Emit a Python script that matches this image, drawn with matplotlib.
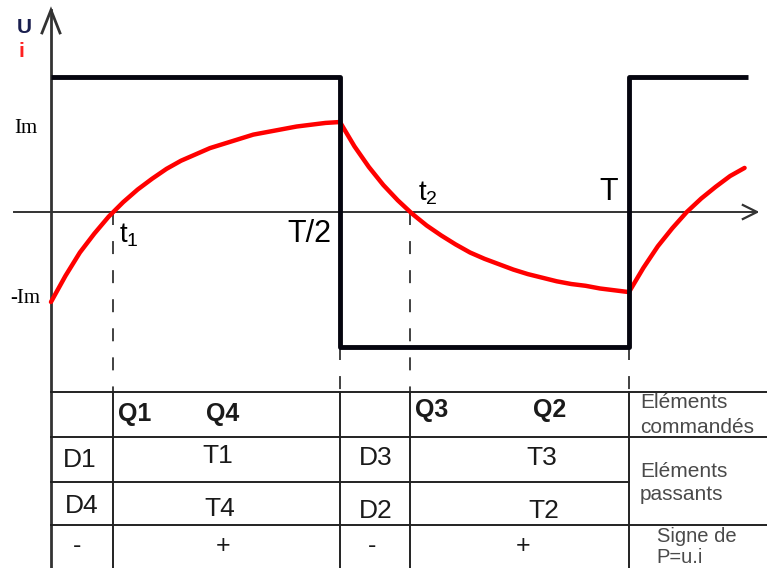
import numpy as np
import matplotlib
matplotlib.use("Agg")
import matplotlib.pyplot as plt

plt.rcParams['font.family'] = ['Liberation Sans', 'DejaVu Sans']
plt.rcParams['mathtext.fontset'] = 'custom'
plt.rcParams['mathtext.rm'] = 'Liberation Sans'

# time in periods (T = 1), amplitudes in units of Im
T_HALF = 0.5
T_ONE = 0.108      # current zero crossing, first half-period
T_TWO = 0.621      # current zero crossing, second half-period
U_LEVEL = 1.5

# square-wave voltage u(t)
u_t = [0.0, 0.5, 0.5, 1.0, 1.0, 1.206]
u_val = [U_LEVEL, U_LEVEL, -U_LEVEL, -U_LEVEL, U_LEVEL, U_LEVEL]

# load current i(t), sampled every T/40
t_rise = np.linspace(0.0, 0.5, 21)
i_rise = [-1.00, -0.71, -0.45, -0.24, -0.05, 0.11, 0.25, 0.37, 0.48, 0.57, 0.64,
          0.71, 0.76, 0.81, 0.86, 0.89, 0.92, 0.95, 0.97, 0.99, 1.00]
t_fall = np.linspace(0.5, 1.0, 21)
i_fall = [1.00, 0.73, 0.50, 0.30, 0.13, -0.02, -0.15, -0.26, -0.36, -0.45, -0.52,
          -0.58, -0.64, -0.69, -0.73, -0.77, -0.80, -0.82, -0.85, -0.87, -0.89]
t_next = np.linspace(1.0, 1.2, 9)
i_next = [-0.89, -0.62, -0.38, -0.18, 0.00, 0.15, 0.28, 0.40, 0.49]

# conduction table below the waveforms
commanded = ['Q1', 'Q4', 'Q3', 'Q2']
diodes_top = ['D1', 'D3']
diodes_bot = ['D4', 'D2']
trans_top = ['T1', 'T3']
trans_bot = ['T4', 'T2']
power_sign = ['-', '+', '-', '+']

XMIN, XMAX = -0.0882, 1.2388
YMIN, YMAX = -3.956, 2.356
ROWS = [-2.0, -2.5, -3.0, -3.48]

fig = plt.figure(figsize=(7.67, 5.68), dpi=100)
ax = fig.add_axes([0, 0, 1, 1])
ax.set_xlim(XMIN, XMAX)
ax.set_ylim(YMIN, YMAX)
ax.axis('off')

axis_col = '#333333'
grid_col = '#222222'

# axes with open arrow heads
ax.plot([0, 0], [YMIN, 2.244], color=axis_col, lw=2.0, zorder=2)
ax.plot([-0.0156, 0, 0.0156], [1.99, 2.244, 1.99], color=axis_col, lw=2.0,
        solid_joinstyle='miter', zorder=2)
ax.plot([-0.064, 1.2215], [0, 0], color=axis_col, lw=1.4, zorder=2)
ax.plot([1.197, 1.2215, 1.197], [0.078, 0, -0.078], color=axis_col, lw=1.6,
        solid_joinstyle='miter', zorder=2)

# dashed markers down to the table
dash = (0, (7.2, 8.9))
for tx in (T_ONE, T_TWO):
    ax.plot([tx, tx], [0, ROWS[0]], color=axis_col, lw=1.3, ls=dash, zorder=2)
for tx in (T_HALF, 1.0):
    ax.plot([tx, tx], [-U_LEVEL, ROWS[0]], color=axis_col, lw=1.3, ls=dash, zorder=2)

# waveforms
for tt, ii in ((t_rise, i_rise), (t_fall, i_fall), (t_next, i_next)):
    ax.plot(tt, ii, color='#ff0000', lw=3.2, solid_capstyle='round',
            solid_joinstyle='round', zorder=3)
ax.plot(u_t, u_val, color='#05050f', lw=3.5, solid_joinstyle='round',
        solid_capstyle='butt', zorder=4)

# axis labels
ax.text(-0.060, 1.99, 'U', color='#1a1f4f', fontsize=15, fontweight='bold',
        ha='left', va='baseline')
ax.text(-0.056, 1.72, 'i', color='#ff2020', fontsize=15, fontweight='bold',
        ha='left', va='baseline')
ax.text(-0.064, 0.878, 'Im', family='Liberation Serif', fontsize=15,
        ha='left', va='baseline')
ax.text(-0.070, -1.01, '-Im', family='Liberation Serif', fontsize=15,
        ha='left', va='baseline')
ax.text(0.1176, -0.333, r't$_\mathregular{1}$', fontsize=20, ha='left', va='baseline')
ax.text(0.4844, -0.333, 'T/2', fontsize=22, ha='right', va='baseline')
ax.text(0.635, 0.133, r't$_\mathregular{2}$', fontsize=20, ha='left', va='baseline')
ax.text(0.948, 0.133, 'T', fontsize=22, ha='left', va='baseline')

# table grid
right = XMAX
for y, x_end in zip(ROWS, [right, right, 1.0, right]):
    ax.plot([0, x_end], [y, y], color=grid_col, lw=1.4, zorder=2)
for tx in (T_ONE, T_HALF, T_TWO, 1.0):
    ax.plot([tx, tx], [ROWS[0], YMIN], color=grid_col, lw=1.4, zorder=2)

txt_col = '#1a1a1a'
q_x = [0.1453, 0.2976, 0.659, 0.863]
q_y = [-2.322, -2.322, -2.278, -2.278]
for lab, x, y in zip(commanded, q_x, q_y):
    ax.text(x, y, lab, fontsize=18, fontweight='bold', color=txt_col,
            ha='center', va='baseline')

for lab, x, y in zip(diodes_top, [0.0502, 0.5623], [-2.833, -2.811]):
    ax.text(x, y, lab, fontsize=19, color=txt_col, ha='center', va='baseline')
for lab, x, y in zip(diodes_bot, [0.0536, 0.5623], [-3.344, -3.40]):
    ax.text(x, y, lab, fontsize=19, color=txt_col, ha='center', va='baseline')
for lab, x, y in zip(trans_top, [0.289, 0.8495], [-2.789, -2.811]):
    ax.text(x, y, lab, fontsize=19, color=txt_col, ha='center', va='baseline')
for lab, x, y in zip(trans_bot, [0.2924, 0.853], [-3.378, -3.40]):
    ax.text(x, y, lab, fontsize=19, color=txt_col, ha='center', va='baseline')

for lab, x in zip(power_sign, [0.045, 0.2976, 0.5554, 0.8166]):
    ax.text(x, -3.79, lab, fontsize=18, color=txt_col, ha='center', va='baseline')

side_col = '#4a4a4a'
side_txt = [('Eléments', -2.178), ('commandés', -2.456),
            ('Eléments', -2.944), ('passants', -3.20)]
for lab, y in side_txt:
    ax.text(1.019, y, lab, fontsize=15, color=side_col, ha='left', va='baseline')
ax.text(1.048, -3.672, 'Signe de', fontsize=14.5, color=side_col, ha='left', va='baseline')
ax.text(1.048, -3.90, 'P=u.i', fontsize=14.5, color=side_col, ha='left', va='baseline')

fig.savefig('out.png', dpi=100)
